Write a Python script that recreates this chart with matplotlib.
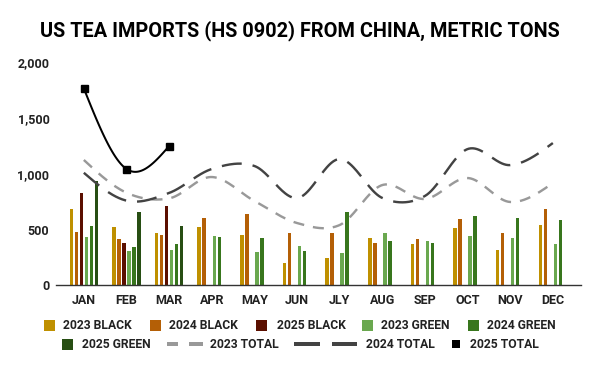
import matplotlib
matplotlib.use("Agg")
import matplotlib.pyplot as plt
from matplotlib.patches import Rectangle
from matplotlib.lines import Line2D
import numpy as np

plt.rcParams['font.family'] = ['Roboto', 'DejaVu Sans']
plt.rcParams['lines.scale_dashes'] = False

months = ["JAN", "FEB", "MAR", "APR", "MAY", "JUN", "JLY", "AUG", "SEP", "OCT", "NOV", "DEC"]

black_2023 = [688, 526, 466, 526, 455, 203, 248, 428, 374, 517, 320, 544]
black_2024 = [475, 413, 455, 607, 643, 472, 472, 383, 419, 598, 472, 688]
black_2025 = [831, 383, 715]
green_2023 = [437, 305, 314, 446, 302, 356, 293, 472, 401, 446, 428, 374]
green_2024 = [535, 347, 374, 437, 428, 311, 661, 401, 383, 625, 607, 589]
green_2025 = [936, 661, 535]

total_2023 = [1125, 831, 780, 972, 757, 559, 541, 900, 775, 963, 748, 918]
total_2024 = [1010, 760, 829, 1044, 1071, 783, 1133, 784, 802, 1223, 1079, 1277]
total_2025 = [1767, 1044, 1250]

y_ticks = [0, 500, 1000, 1500, 2000]

W, H = 600, 371
fig = plt.figure(figsize=(W / 100, H / 100), dpi=100)

ax_left, ax_right = 55.7, 581.0
ax_top, ax_bottom = 62.5, 285.3
ax = fig.add_axes([ax_left / W, 1 - ax_bottom / H, (ax_right - ax_left) / W, (ax_bottom - ax_top) / H])

bar_series = [
    (black_2023, "#bf9000", "2023 BLACK"),
    (black_2024, "#b45f06", "2024 BLACK"),
    (black_2025, "#5b0f00", "2025 BLACK"),
    (green_2023, "#6aa84f", "2023 GREEN"),
    (green_2024, "#38761d", "2024 GREEN"),
    (green_2025, "#274e13", "2025 GREEN"),
]

slot = 0.1174
bw = 0.082
for i, (vals, col, lab) in enumerate(bar_series):
    xs = np.arange(len(vals)) + (i - 2.5) * slot
    ax.bar(xs, vals, width=bw, color=col, zorder=2, linewidth=0)


def smooth_curve(vals, n=40):
    """Smooth rendering through the given points: Catmull-Rom tangents inside,
    natural (zero-curvature) tangents at both ends."""
    y = np.asarray(vals, dtype=float)
    m = len(y)
    tang = np.zeros(m)
    for i in range(1, m - 1):
        tang[i] = (y[i + 1] - y[i - 1]) / 2.0
    if m > 2:
        tang[0] = (3 * (y[1] - y[0]) - tang[1]) / 2.0
        tang[-1] = (3 * (y[-1] - y[-2]) - tang[-2]) / 2.0
    else:
        tang[0] = tang[-1] = y[-1] - y[0]
    xs_out, ys_out = [], []
    for i in range(m - 1):
        t = np.linspace(0, 1, n, endpoint=(i == m - 2))
        h00 = 2 * t ** 3 - 3 * t ** 2 + 1
        h10 = t ** 3 - 2 * t ** 2 + t
        h01 = -2 * t ** 3 + 3 * t ** 2
        h11 = t ** 3 - t ** 2
        seg = h00 * y[i] + h10 * tang[i] + h01 * y[i + 1] + h11 * tang[i + 1]
        xs_out.append(i + t)
        ys_out.append(seg)
    return np.concatenate(xs_out), np.concatenate(ys_out)


px2pt = 0.72
x23, y23 = smooth_curve(total_2023)
ax.plot(x23, y23, color="#999999", lw=2.4 * px2pt, zorder=3,
        linestyle=(0, (11 * px2pt, 9 * px2pt)), dash_capstyle='butt')
x24, y24 = smooth_curve(total_2024)
ax.plot(x24, y24, color="#434343", lw=2.4 * px2pt, zorder=3,
        linestyle=(0, (20 * px2pt, 11 * px2pt)), dash_capstyle='butt')
x25, y25 = smooth_curve(total_2025)
ax.plot(x25, y25, color="#000000", lw=2.0 * px2pt, zorder=4)
ax.plot(np.arange(len(total_2025)), total_2025, linestyle='none', marker='s',
        markersize=7 * px2pt, color="#000000", zorder=5)

ax.set_xlim(-0.66, 11.66)
ax.set_ylim(0, 2000)
ax.set_xticks(range(len(months)))
ax.set_xticklabels(months)
ax.set_yticks(y_ticks)
ax.set_yticklabels([f"{v:,}" for v in y_ticks])
ax.tick_params(axis='both', length=0, labelsize=9, colors="#222222")
ax.tick_params(axis='x', pad=6.0)
ax.tick_params(axis='y', pad=4.5)
for lbl in ax.get_xticklabels() + ax.get_yticklabels():
    lbl.set_fontweight('bold')
for s in ["top", "right", "left"]:
    ax.spines[s].set_visible(False)
ax.spines["bottom"].set_color("#333333")
ax.spines["bottom"].set_linewidth(1.0)
ax.spines["bottom"].set_zorder(6)
ax.grid(False)

fig.text(0.5, 1 - 30.7 / H, "US TEA IMPORTS (HS 0902) FROM CHINA, METRIC TONS",
         ha='center', va='center', fontsize=14.3, fontweight='bold', color="#000000")


def fx(px):
    return px / W


def fy(py):
    return 1 - py / H


leg_fs = 8.7
row1, row2 = 325.7, 344.3
sq = 11
square_entries = [
    (44.3, 63.3, row1, "#bf9000", "2023 BLACK"),
    (150.0, 169.3, row1, "#b45f06", "2024 BLACK"),
    (255.7, 276.7, row1, "#5b0f00", "2025 BLACK"),
    (362.0, 381.0, row1, "#6aa84f", "2023 GREEN"),
    (467.8, 487.0, row1, "#38761d", "2024 GREEN"),
    (62.3, 81.7, row2, "#274e13", "2025 GREEN"),
]
for sx, tx, ry, col, lab in square_entries:
    fig.add_artist(Rectangle((fx(sx), fy(ry + sq / 2)), sq / W, sq / H,
                             transform=fig.transFigure, color=col, linewidth=0))
    fig.text(fx(tx), fy(ry), lab, ha='left', va='center', fontsize=leg_fs,
             fontweight='bold', color="#222222")

for a, b in [(167.3, 178.3), (189.3, 203.3)]:
    fig.add_artist(Line2D([fx(a), fx(b)], [fy(row2), fy(row2)], transform=fig.transFigure,
                          color="#999999", lw=4 * px2pt, solid_capstyle='butt'))
fig.text(fx(210), fy(row2), "2023 TOTAL", ha='left', va='center', fontsize=leg_fs,
         fontweight='bold', color="#222222")
for a, b in [(294.3, 320.0), (332.3, 356.7)]:
    fig.add_artist(Line2D([fx(a), fx(b)], [fy(row2), fy(row2)], transform=fig.transFigure,
                          color="#434343", lw=4 * px2pt, solid_capstyle='butt'))
fig.text(fx(366), fy(row2), "2024 TOTAL", ha='left', va='center', fontsize=leg_fs,
         fontweight='bold', color="#222222")
msq = 7.7
fig.add_artist(Rectangle((fx(451.8), fy(row2 + msq / 2)), msq / W, msq / H,
                         transform=fig.transFigure, color="#000000", linewidth=0))
fig.text(fx(470), fy(row2), "2025 TOTAL", ha='left', va='center', fontsize=leg_fs,
         fontweight='bold', color="#222222")

fig.savefig("out.png", dpi=100)
